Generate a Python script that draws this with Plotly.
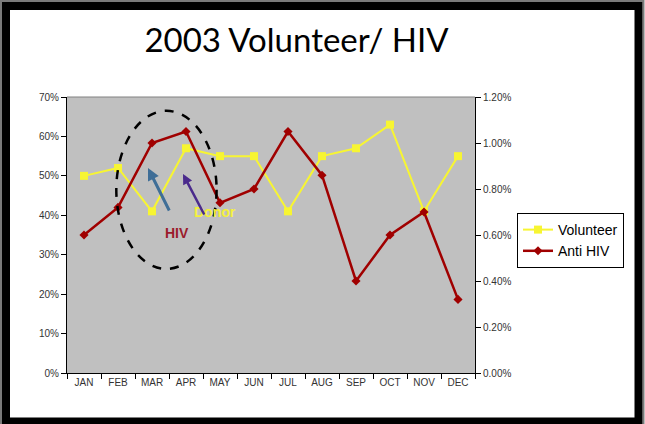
import plotly.graph_objects as go

months = ["JAN", "FEB", "MAR", "APR", "MAY", "JUN", "JUL", "AUG", "SEP", "OCT", "NOV", "DEC"]
volunteer = [50, 52, 41, 57, 55, 55, 41, 55, 57, 63, 41, 55]          # % (left axis)
anti_hiv = [0.60, 0.72, 1.00, 1.05, 0.74, 0.80, 1.05, 0.86, 0.40, 0.60, 0.70, 0.32]  # % (right axis)
left_ticks = [0, 10, 20, 30, 40, 50, 60, 70]
left_labels = ["0%", "10%", "20%", "30%", "40%", "50%", "60%", "70%"]
right_ticks = [0.0, 0.2, 0.4, 0.6, 0.8, 1.0, 1.2]
right_labels = ["0.00%", "0.20%", "0.40%", "0.60%", "0.80%", "1.00%", "1.20%"]

W, H = 645, 424
L, R, T, B = 67, 170, 97, 51
pw, ph = W - L - R, H - T - B

def px(x):
    return (x - L) / pw

def py(y):
    return (H - B - y) / ph

tickfont = dict(family="Liberation Sans, Arial, sans-serif", size=10, color="#333333")

fig = go.Figure()
fig.add_trace(go.Scatter(
    x=months, y=volunteer, name="Volunteer", mode="lines+markers",
    line=dict(color="#F7F532", width=2),
    marker=dict(symbol="square", size=8, color="#F7F532"),
    yaxis="y",
))
fig.add_trace(go.Scatter(
    x=months, y=anti_hiv, name="Anti HIV", mode="lines+markers",
    line=dict(color="#A00000", width=2.5),
    marker=dict(symbol="diamond", size=7, color="#A00000"),
    yaxis="y2",
))

shapes = [
    # dashed ellipse around MAR-APR
    dict(type="circle", xref="x", yref="y", x0=0.95, x1=3.90, y0=26.4, y1=66.5,
         line=dict(color="black", width=2.5, dash="dash"), fillcolor="rgba(0,0,0,0)"),
    # plot area top border
    dict(type="line", xref="paper", yref="paper", x0=0, x1=1, y0=1, y1=1,
         line=dict(color="#808080", width=1)),
    # outer grey edge
    dict(type="rect", xref="paper", yref="paper", x0=px(1), x1=px(643.5), y0=py(1), y1=py(430),
         line=dict(color="#7a7a7a", width=2)),
    # black frame
    dict(type="rect", xref="paper", yref="paper", x0=px(6), x1=px(638.5), y0=py(6), y1=py(421.5),
         line=dict(color="black", width=8)),
]

annotations = [
    dict(text="<b>HIV</b>", x=px(177), y=py(233), xref="paper", yref="paper", showarrow=False,
         xanchor="center", yanchor="middle",
         font=dict(family="Liberation Sans, Arial, sans-serif", size=14, color="#9B1B2B")),
    dict(text="<b>Donor</b>", x=px(215), y=py(212), xref="paper", yref="paper", showarrow=False,
         xanchor="center", yanchor="middle",
         font=dict(family="Liberation Sans, Arial, sans-serif", size=14, color="#F4F03A")),
    dict(text="", x=px(148), y=py(168), xref="paper", yref="paper", showarrow=True,
         ax=22, ay=44, arrowcolor="#3F6E97", arrowwidth=3, arrowhead=2, arrowsize=0.8),
    dict(text="", x=px(183), y=py(174), xref="paper", yref="paper", showarrow=True,
         ax=22, ay=42, arrowcolor="#4A2A8C", arrowwidth=2.5, arrowhead=2, arrowsize=0.8),
]

fig.update_layout(
    width=W, height=H,
    margin=dict(l=L, r=R, t=T, b=B, autoexpand=False),
    paper_bgcolor="white",
    plot_bgcolor="#C0C0C0",
    title=dict(text="2003 Volunteer/ HIV", x=296.5 / W, xanchor="center", xref="container",
               y=1 - 40 / H, yanchor="middle", yref="container",
               font=dict(family="Lato, Open Sans, sans-serif", size=33, color="black")),
    xaxis=dict(type="category", range=[-0.5, 11.5], tickson="boundaries", ticks="outside",
               ticklen=5, tickcolor="black", showline=True, linecolor="black", linewidth=1,
               showgrid=False, tickfont=tickfont, fixedrange=True),
    yaxis=dict(range=[0, 70], tickmode="array", tickvals=left_ticks, ticktext=left_labels,
               ticks="outside", ticklen=5,
               tickcolor="black", showline=True, linecolor="black", linewidth=1, showgrid=False,
               zeroline=False, tickfont=tickfont),
    yaxis2=dict(range=[0, 1.2], tickmode="array", tickvals=right_ticks, ticktext=right_labels,
                ticks="outside", ticklen=5, tickcolor="black", showline=True, linecolor="black",
                linewidth=1, showgrid=False, zeroline=False, overlaying="y", side="right",
                tickfont=tickfont),
    legend=dict(x=px(517), y=py(213), xanchor="left", yanchor="top", bgcolor="white",
                bordercolor="black", borderwidth=1, itemwidth=30,
                font=dict(family="Liberation Sans, Arial, sans-serif", size=14, color="black"),
                tracegroupgap=0),
    shapes=shapes,
    annotations=annotations,
    showlegend=True,
)

fig.write_html("out.html", config={"displayModeBar": False},
               post_script="document.body.style.margin='0';document.body.style.padding='0';")
